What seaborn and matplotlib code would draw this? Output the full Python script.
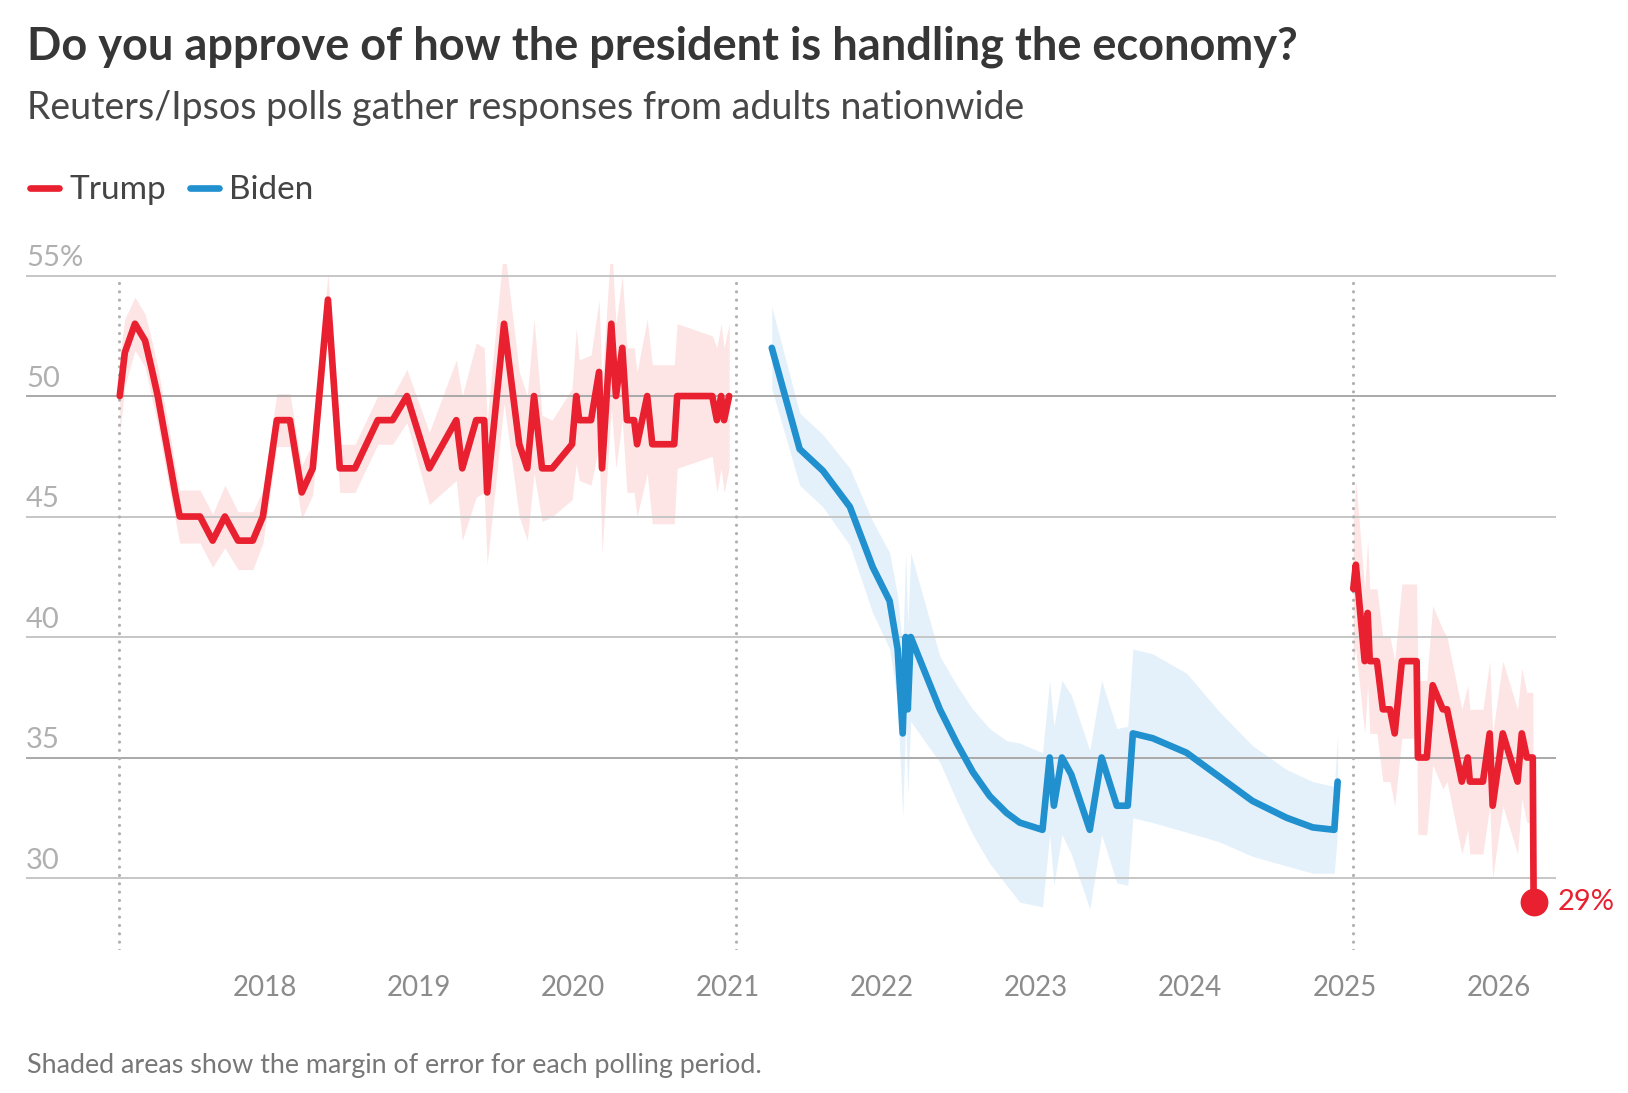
import pandas as pd
import numpy as np
import seaborn as sns
import matplotlib.pyplot as plt
from matplotlib.lines import Line2D

# Trump, first term
trump1_dates = [
    "2017-01-22", "2017-02-03", "2017-02-27", "2017-03-23", "2017-04-08", "2017-04-22",
    "2017-05-21", "2017-06-02", "2017-06-13", "2017-07-31", "2017-08-30",
    "2017-09-28", "2017-10-29", "2017-12-03", "2017-12-27", "2018-01-29", "2018-03-01",
    "2018-03-29", "2018-04-24", "2018-05-30", "2018-06-27", "2018-08-02", "2018-09-25",
    "2018-10-30", "2018-12-03", "2019-01-25", "2019-03-30", "2019-04-13", "2019-05-16",
    "2019-06-04", "2019-06-11", "2019-07-21", "2019-08-26", "2019-09-14", "2019-09-30",
    "2019-10-19", "2019-11-12", "2019-12-29", "2020-01-08", "2020-01-15", "2020-02-12",
    "2020-03-02", "2020-03-09", "2020-03-31", "2020-04-11", "2020-04-26", "2020-05-07",
    "2020-05-24", "2020-05-31", "2020-06-24", "2020-07-06", "2020-08-27", "2020-09-03",
    "2020-11-25", "2020-12-06", "2020-12-16", "2020-12-23", "2021-01-04",
]
trump1_approve = [
    50, 51.8, 53, 52.3, 51.1, 50,
    47.2, 46, 45, 45, 44,
    45, 44, 44, 45, 49, 49,
    46, 47, 54, 47, 47, 49,
    49, 50, 47, 49, 47, 49,
    49, 46, 53, 48, 47, 50,
    47, 47, 48, 50, 49, 49,
    51, 47, 53, 50, 52, 49,
    49, 48, 50, 48, 48, 50,
    50, 49, 50, 49, 50,
]
trump1_moe = [
    1.6, 1.4, 1.1, 1.1, 1.2, 1.2,
    1.2, 1.1, 1.1, 1.1, 1.1,
    1.3, 1.2, 1.2, 1.1, 1.1, 1.1,
    1.1, 1.1, 1.1, 1.0, 1.0, 1.0,
    1.0, 1.1, 1.5, 2.5, 3.0, 3.2,
    3.0, 3.0, 3.3, 3.0, 3.0, 3.2,
    2.2, 2.0, 2.3, 2.8, 2.5, 2.7,
    3.0, 3.5, 3.5, 3.0, 3.0, 3.0,
    3.0, 3.0, 3.2, 3.3, 3.3, 3.0,
    2.5, 3.0, 3.0, 3.0, 3.0,
]

# Biden
biden_dates = [
    "2021-04-15", "2021-06-20", "2021-08-14", "2021-10-17", "2021-12-10", "2022-01-19",
    "2022-02-07", "2022-02-19", "2022-02-26", "2022-03-03", "2022-03-10", "2022-05-18",
    "2022-06-27", "2022-08-04", "2022-09-13", "2022-10-23", "2022-11-23", "2023-01-16",
    "2023-02-02", "2023-02-12", "2023-03-03", "2023-03-25", "2023-05-08", "2023-06-05",
    "2023-07-11", "2023-08-06", "2023-08-18", "2023-10-04", "2023-12-23", "2024-03-10",
    "2024-05-27", "2024-08-16", "2024-10-17", "2024-12-07", "2024-12-15",
]
biden_approve = [
    52, 47.8, 46.9, 45.4, 42.9, 41.5,
    39.5, 36, 40, 37, 40, 37,
    35.6, 34.4, 33.4, 32.7, 32.3, 32,
    35, 33, 35, 34.3, 32, 35,
    33, 33, 36, 35.8, 35.2, 34.2,
    33.2, 32.5, 32.1, 32, 34,
]
biden_moe = [
    1.7, 1.5, 1.5, 1.6, 1.9, 2.0,
    2.2, 3.5, 3.5, 3.5, 3.5, 2.2,
    2.4, 2.6, 2.8, 3.0, 3.3, 3.2,
    3.2, 3.3, 3.2, 3.3, 3.3, 3.2,
    3.2, 3.3, 3.5, 3.5, 3.3, 2.7,
    2.3, 2.0, 1.9, 1.8, 2.0,
]

# Trump, second term
trump2_dates = [
    "2025-01-21", "2025-01-27", "2025-02-17", "2025-02-24", "2025-03-01", "2025-03-18",
    "2025-04-01", "2025-04-18", "2025-04-29", "2025-05-16", "2025-06-20", "2025-06-23",
    "2025-07-14", "2025-07-28", "2025-08-21", "2025-08-31", "2025-10-05", "2025-10-19",
    "2025-10-24", "2025-11-24", "2025-12-10", "2025-12-17", "2026-01-10", "2026-02-14",
    "2026-02-24", "2026-03-08", "2026-03-22", "2026-03-24",
]
trump2_approve = [
    42, 43, 39, 41, 39, 39,
    37, 37, 36, 39, 39, 35,
    35, 38, 37, 37, 34, 35,
    34, 34, 36, 33, 36, 34,
    36, 35, 35, 29,
]
trump2_moe = [
    3.0, 3.5, 3.0, 3.0, 3.0, 3.0,
    3.0, 3.0, 3.0, 3.2, 3.2, 3.2,
    3.2, 3.3, 3.3, 3.0, 3.0, 3.0,
    3.0, 3.0, 3.0, 3.0, 3.0, 3.0,
    2.7, 2.7, 2.7, 0.3,
]

inaugurations = ["2017-01-20", "2021-01-20", "2025-01-20"]
year_ticks = [2018, 2019, 2020, 2021, 2022, 2023, 2024, 2025, 2026]
grid_values = [30, 35, 40, 45, 50, 55]
grid_labels = ["30", "35", "40", "45", "50", "55%"]

RED = "#e8202f"
BLUE = "#2190cf"
RED_BAND = "#fde5e5"
BLUE_BAND = "#e5f1fa"

sns.set_theme(style="white")
plt.rcParams["font.family"] = ["Lato", "DejaVu Sans"]

W, H = 1628, 1093
fig = plt.figure(figsize=(W / 100, H / 100), dpi=100)
ax = fig.add_axes([26 / W, 1 - 950.3 / H, 1530 / W, (950.3 - 263.5) / H])


def draw_term(dates, values, moe, color, band):
    df = pd.DataFrame({"date": pd.to_datetime(dates), "approve": values, "moe": moe})
    ax.fill_between(df["date"], df["approve"] - df["moe"], df["approve"] + df["moe"],
                    color=band, lw=0, zorder=1)
    sns.lineplot(data=df, x="date", y="approve", ax=ax, color=color, lw=4.8,
                 sort=False, estimator=None, zorder=5)
    ln = ax.lines[-1]
    ln.set_solid_joinstyle("round")
    ln.set_solid_capstyle("round")
    return df


draw_term(trump1_dates, trump1_approve, trump1_moe, RED, RED_BAND)
draw_term(biden_dates, biden_approve, biden_moe, BLUE, BLUE_BAND)
t2 = draw_term(trump2_dates, trump2_approve, trump2_moe, RED, RED_BAND)

# end point marker + label
last = t2.iloc[-1]
ax.plot(last["date"], last["approve"], "o", color=RED, ms=19, zorder=6)
ax.annotate(f"{last['approve']:.0f}%", xy=(last["date"], last["approve"]),
            xytext=(17, 0), textcoords="offset points", va="center", ha="left",
            fontsize=21, color=RED)

# gridlines (50 and 35 render a touch darker in the original)
for v in grid_values:
    ax.axhline(v, color="#a9a9a9" if v in (35, 50) else "#c6c6c6", lw=1.4, zorder=2)
for v, lab in zip(grid_values, grid_labels):
    ax.text(0, v + 0.38, lab, transform=ax.get_yaxis_transform(), ha="left",
            va="baseline", fontsize=21, color="#b0b0b0")

# inauguration markers
for d in inaugurations:
    ax.vlines(pd.Timestamp(d), 27, 55, colors="#b0b0b0", lw=2.3,
              linestyles=(0, (0.01, 2.6)), capstyle="round", zorder=3)

ax.set_xlim(pd.Timestamp("2016-06-14"), pd.Timestamp("2026-05-16"))
ax.set_ylim(27, 55.5)
ax.set_yticks([])
ax.set_xticks(pd.to_datetime([f"{y}-01-01" for y in year_ticks]))
ax.set_xticklabels([str(y) for y in year_ticks])
ax.tick_params(axis="x", length=0, pad=18, labelsize=20, labelcolor="#8c8c8c")
ax.set_xlabel("")
ax.set_ylabel("")
for s in ax.spines.values():
    s.set_visible(False)
ax.set_facecolor("none")

# titles
fig.text(27 / W, 1 - 60 / H, "Do you approve of how the president is handling the economy?",
         fontsize=32.5, fontweight="bold", color="#363636", va="baseline")
fig.text(27 / W, 1 - 119 / H, "Reuters/Ipsos polls gather responses from adults nationwide",
         fontsize=27, color="#474747", va="baseline")

# legend
for x0, col, name in [(27, RED, "Trump"), (187, BLUE, "Biden")]:
    fig.add_artist(Line2D([(x0 + 3) / W, (x0 + 32) / W], [1 - 188 / H, 1 - 188 / H],
                          color=col, lw=4.8, solid_capstyle="round"))
    fig.text((x0 + 42) / W, 1 - 199 / H, name, fontsize=24, color="#444444",
             va="baseline")

fig.text(27 / W, 1 - 1073 / H, "Shaded areas show the margin of error for each polling period.",
         fontsize=19.4, color="#777777", va="baseline")

fig.savefig("out.png", dpi=100)
